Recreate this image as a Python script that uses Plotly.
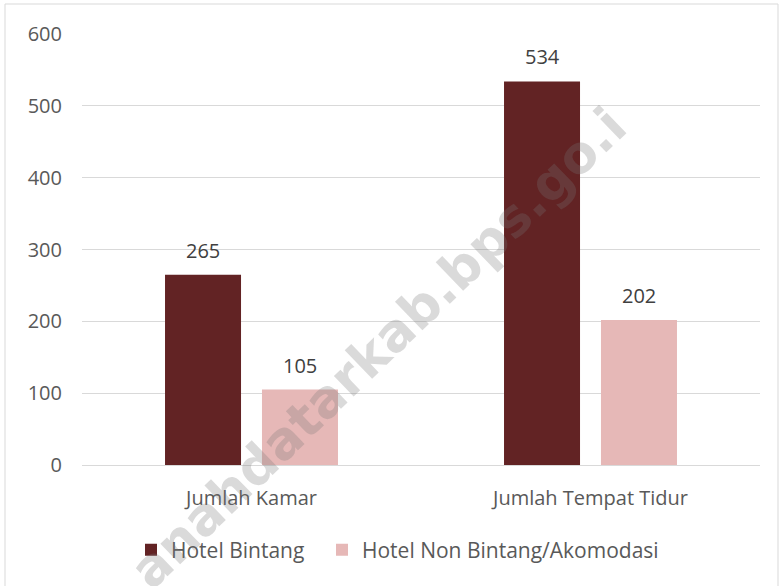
import plotly.graph_objects as go

categories = ["Jumlah Kamar", "Jumlah Tempat Tidur"]
series_names = ["Hotel Bintang", "Hotel Non Bintang/Akomodasi"]
hotel_bintang = [265, 534]
hotel_non_bintang = [105, 202]
y_ticks = [0, 100, 200, 300, 400, 500, 600]
watermark = "anahdatarkab.bps.go.i"

colors = ["#622324", "#e6b8b7"]
FONT = "Open Sans"
FS = 20

W, H = 783, 586
L, R, T, B = 82, 23, 34, 121
PW, PH = W - L - R, H - T - B

BARGAP, GROUPGAP = 0.428, 0.216
slot = (1 - BARGAP) / 2  # width of each bar slot in category units

legend_ids = ["legend", "legend2"]
legend_left_px = [131, 322]

fig = go.Figure()
series = [hotel_bintang, hotel_non_bintang]
annotations = []
for i, (name, vals, col) in enumerate(zip(series_names, series, colors)):
    fig.add_trace(go.Bar(
        x=categories, y=vals, name=name, legend=legend_ids[i],
        marker=dict(color=col, line=dict(width=0)),
    ))
    off = (i - 0.5) * slot
    for j, v in enumerate(vals):
        annotations.append(dict(
            x=j + off, y=v, xref="x", yref="y", text=str(v), showarrow=False,
            xanchor="center", yanchor="bottom", yshift=9,
            font=dict(family=FONT, size=FS, color="#404040")))

annotations.append(dict(
    text=watermark, xref="paper", yref="paper",
    x=(378 - L) / PW, y=(H - B - 348) / PH, xanchor="center", yanchor="middle",
    showarrow=False, textangle=-44,
    font=dict(family="DejaVu Sans", size=52, color="rgba(120,120,120,0.27)", weight="bold")))

legend_common = dict(orientation="h", xanchor="left",
                     y=(H - B - 550) / PH, yanchor="middle",
                     font=dict(family=FONT, size=21, color="#595959"),
                     itemwidth=30, bgcolor="rgba(0,0,0,0)")

fig.update_layout(
    width=W, height=H,
    margin=dict(l=L, r=R, t=T, b=B, autoexpand=False),
    paper_bgcolor="white", plot_bgcolor="white",
    barmode="group", bargap=BARGAP, bargroupgap=GROUPGAP,
    font=dict(family=FONT, size=FS, color="#595959"),
    showlegend=True,
    legend=dict(x=(legend_left_px[0] - L) / PW, **legend_common),
    legend2=dict(x=(legend_left_px[1] - L) / PW, **legend_common),
    xaxis=dict(showgrid=False, showline=True, linecolor="#d9d9d9", linewidth=1,
               ticks="outside", ticklen=15, tickcolor="rgba(0,0,0,0)", automargin=False,
               range=[-0.5, 1.5],
               tickfont=dict(family=FONT, size=FS, color="#595959")),
    yaxis=dict(range=[0, 600], tickvals=y_ticks, showgrid=True, gridcolor="#d9d9d9",
               gridwidth=1, zeroline=False, showline=False, ticks="", automargin=False,
               ticklabelstandoff=19,
               tickfont=dict(family=FONT, size=FS, color="#595959")),
    shapes=[dict(type="rect", xref="paper", yref="paper",
                 x0=(5 - L) / PW, x1=(778 - L) / PW,
                 y0=-(B + 10) / PH, y1=(H - 4 - B) / PH,
                 line=dict(color="#d9d9d9", width=1), layer="below")],
    annotations=annotations,
)

fig.write_html("out.html", config={"displayModeBar": False},
               post_script="document.body.style.margin='0';")
